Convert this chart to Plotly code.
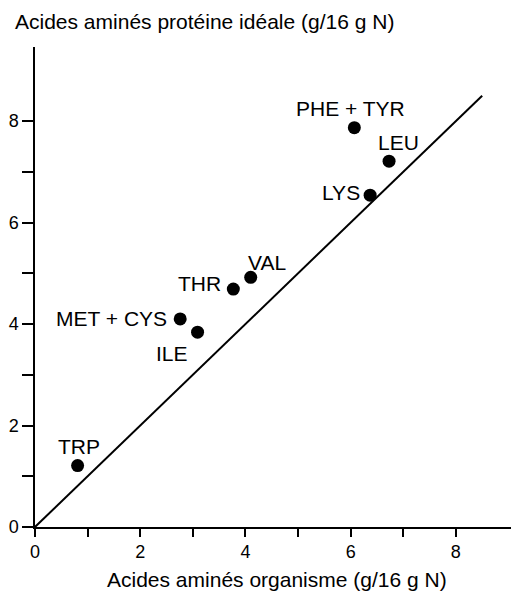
import plotly.graph_objects as go

# Data
amino_acids = ["TRP", "MET + CYS", "ILE", "THR", "VAL", "LYS", "LEU", "PHE + TYR"]
organisme = [0.81, 2.76, 3.09, 3.77, 4.10, 6.37, 6.73, 6.07]
proteine_ideale = [1.21, 4.10, 3.84, 4.69, 4.92, 6.54, 7.21, 7.87]
diag_x = [0, 8.5]
diag_y = [0, 8.5]
tick_vals = [0, 1, 2, 3, 4, 5, 6, 7, 8]
tick_text = ["0", "", "2", "", "4", "", "6", "", "8"]

# label offsets (pixels) and anchors (style only)
label_style = {
    "TRP": dict(xshift=1, yshift=19, xanchor="center"),
    "MET + CYS": dict(xshift=-11, yshift=0, xanchor="right"),
    "ILE": dict(xshift=-26, yshift=-21, xanchor="center"),
    "THR": dict(xshift=-10, yshift=6, xanchor="right"),
    "VAL": dict(xshift=16, yshift=15, xanchor="center"),
    "LYS": dict(xshift=-8, yshift=3, xanchor="right"),
    "LEU": dict(xshift=9, yshift=19, xanchor="center"),
    "PHE + TYR": dict(xshift=-4, yshift=19, xanchor="center"),
}

FONT = "Liberation Sans, Arial, Helvetica, sans-serif"

fig = go.Figure()
fig.add_trace(go.Scatter(x=diag_x, y=diag_y, mode="lines",
                         line=dict(color="black", width=2), hoverinfo="skip"))
fig.add_trace(go.Scatter(x=organisme, y=proteine_ideale, mode="markers",
                         marker=dict(color="black", size=13),
                         text=amino_acids))

annotations = []
for name, xv, yv in zip(amino_acids, organisme, proteine_ideale):
    st = label_style[name]
    annotations.append(dict(x=xv, y=yv, xref="x", yref="y", text=name,
                            showarrow=False, yanchor="middle",
                            font=dict(size=21, color="black", family=FONT), **st))

annotations.append(dict(text="Acides aminés protéine idéale (g/16 g N)",
                        xref="paper", yref="paper", x=0, y=1,
                        xanchor="left", yanchor="top",
                        xshift=-22, yshift=39, showarrow=False,
                        font=dict(size=21, color="black", family=FONT)))
annotations.append(dict(text="Acides aminés organisme (g/16 g N)",
                        xref="paper", yref="paper", x=0.5, y=0,
                        xanchor="center", yanchor="middle",
                        yshift=-52, showarrow=False,
                        font=dict(size=21, color="black", family=FONT)))

axis_common = dict(showgrid=False, zeroline=False, showline=True,
                   linecolor="black", linewidth=1.5, automargin=False,
                   ticks="outside", tickcolor="black", tickwidth=1.5,
                   tickvals=tick_vals, ticktext=tick_text,
                   tickfont=dict(size=18, color="black", family=FONT))

fig.update_layout(
    width=511, height=591,
    margin=dict(l=27, r=0, t=39, b=72),
    paper_bgcolor="white", plot_bgcolor="white",
    showlegend=False,
    annotations=annotations,
    xaxis=dict(range=[0, 9.2], ticklen=8, **axis_common),
    yaxis=dict(range=[0, 9.46], ticklen=11, **axis_common),
)

fig.write_html("out.html")
